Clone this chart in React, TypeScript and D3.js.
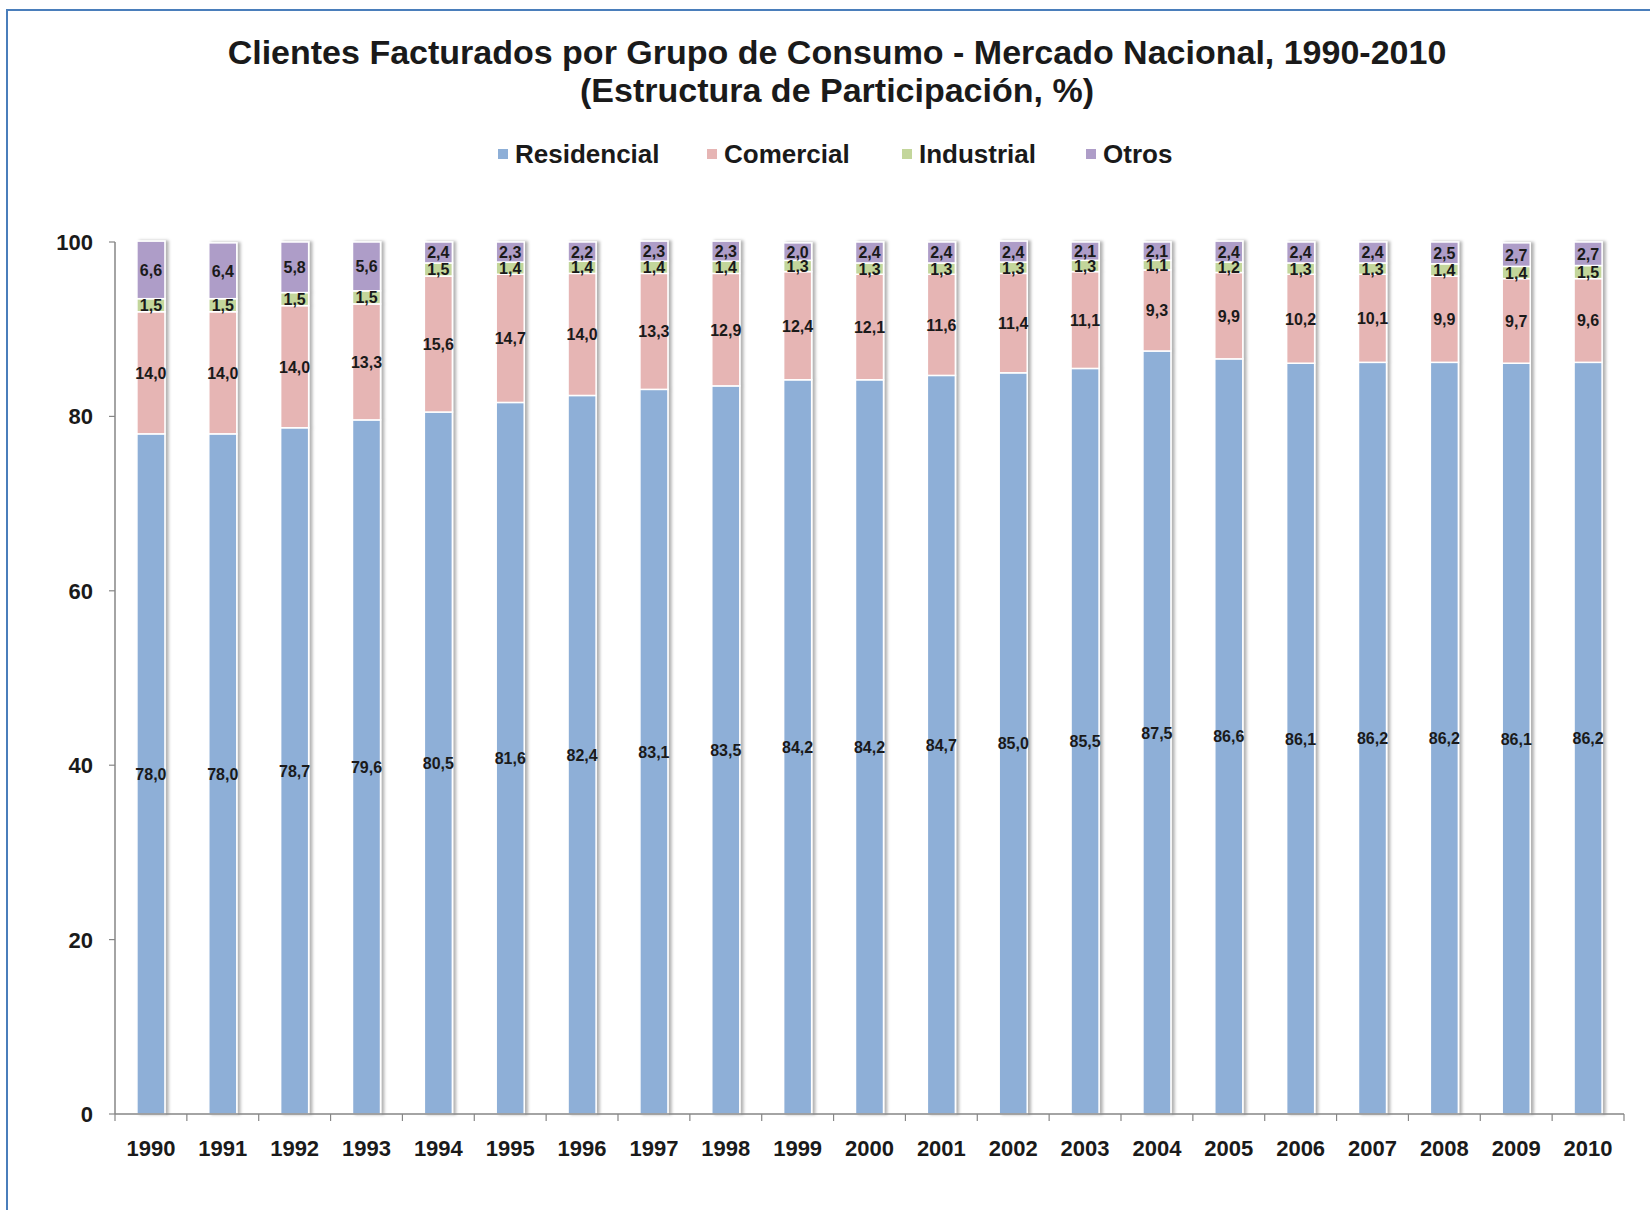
import React, { useRef, useEffect } from 'react';
import * as d3 from 'd3';

// Clientes facturados por grupo de consumo, estructura %
const years = ['1990', '1991', '1992', '1993', '1994', '1995', '1996', '1997', '1998', '1999', '2000',
  '2001', '2002', '2003', '2004', '2005', '2006', '2007', '2008', '2009', '2010'];
const residencial = [78.0, 78.0, 78.7, 79.6, 80.5, 81.6, 82.4, 83.1, 83.5, 84.2, 84.2, 84.7, 85.0, 85.5, 87.5, 86.6, 86.1, 86.2, 86.2, 86.1, 86.2];
const comercial = [14.0, 14.0, 14.0, 13.3, 15.6, 14.7, 14.0, 13.3, 12.9, 12.4, 12.1, 11.6, 11.4, 11.1, 9.3, 9.9, 10.2, 10.1, 9.9, 9.7, 9.6];
const industrial = [1.5, 1.5, 1.5, 1.5, 1.5, 1.4, 1.4, 1.4, 1.4, 1.3, 1.3, 1.3, 1.3, 1.3, 1.1, 1.2, 1.3, 1.3, 1.4, 1.4, 1.5];
const otros = [6.6, 6.4, 5.8, 5.6, 2.4, 2.3, 2.2, 2.3, 2.3, 2.0, 2.4, 2.4, 2.4, 2.1, 2.1, 2.4, 2.4, 2.4, 2.5, 2.7, 2.7];
const seriesNames = ['Residencial', 'Comercial', 'Industrial', 'Otros'];
const yTicks = [0, 20, 40, 60, 80, 100];
const titleLines = ['Clientes Facturados por Grupo de Consumo - Mercado Nacional, 1990-2010', '(Estructura de Participación, %)'];

const colors = ['#8EAFD7', '#E6B5B4', '#C3D69B', '#AE9DC8'];
const font = '"Liberation Sans", Arial, sans-serif';

function App() {
  const ref = useRef(null);

  useEffect(() => {
    const width = 1650, height = 1210;
    const svg = d3.select(ref.current).attr('width', width).attr('height', height);
    svg.selectAll('*').remove();

    const left = 115, right = 1624, top = 242, bottom = 1114;

    // chart frame
    svg.append('rect').attr('x', 7).attr('y', 10).attr('width', 1700).attr('height', 1300)
      .attr('fill', 'white').attr('stroke', '#4A7EBB').attr('stroke-width', 2);

    const defs = svg.append('defs');
    const f = defs.append('filter').attr('id', 'shadow').attr('x', '-50%').attr('y', '-5%').attr('width', '200%').attr('height', '110%');
    f.append('feDropShadow').attr('dx', 3).attr('dy', 0).attr('stdDeviation', 1.8)
      .attr('flood-color', '#000').attr('flood-opacity', 0.3);

    // title
    svg.append('g').selectAll('text').data(titleLines).enter().append('text')
      .attr('x', 837).attr('y', (d, i) => 64 + i * 38)
      .attr('text-anchor', 'middle').attr('font-family', font).attr('font-weight', 'bold')
      .attr('font-size', 34).attr('fill', '#1a1a1a').text(d => d);

    // legend
    const legendX = [498, 707, 902, 1086];
    const lg = svg.append('g');
    seriesNames.forEach((name, i) => {
      lg.append('rect').attr('x', legendX[i]).attr('y', 149).attr('width', 10).attr('height', 10).attr('fill', colors[i]);
      lg.append('text').attr('x', legendX[i] + 17).attr('y', 163)
        .attr('font-family', font).attr('font-weight', 'bold').attr('font-size', 26)
        .attr('fill', '#1a1a1a').text(name);
    });

    const x = d3.scaleBand().domain(years).range([left, right]).paddingInner(0.61).paddingOuter(0.305);
    const y = d3.scaleLinear().domain([0, 100]).range([bottom, top]);

    const table = years.map((yr, i) => ({ year: yr, Residencial: residencial[i], Comercial: comercial[i], Industrial: industrial[i], Otros: otros[i] }));
    const stacked = d3.stack().keys(seriesNames)(table);

    // bars
    const barGroups = svg.append('g').selectAll('g').data(years).enter().append('g').attr('filter', 'url(#shadow)');
    barGroups.each(function (yr, i) {
      const g = d3.select(this);
      stacked.forEach((s, k) => {
        const d = s[i];
        g.append('rect')
          .attr('x', x(yr))
          .attr('y', y(d[1]))
          .attr('width', x.bandwidth())
          .attr('height', y(d[0]) - y(d[1]))
          .attr('fill', colors[k])
          .attr('stroke', 'white')
          .attr('stroke-width', 1.5);
      });
    });

    // data labels
    const lab = svg.append('g');
    stacked.forEach((s) => {
      s.forEach((d, i) => {
        lab.append('text')
          .attr('x', x(years[i]) + x.bandwidth() / 2)
          .attr('y', y((d[0] + d[1]) / 2) + 6)
          .attr('text-anchor', 'middle')
          .attr('font-family', font).attr('font-weight', 'bold').attr('font-size', 16)
          .attr('fill', '#1a1a1a')
          .text(d3.format('.1f')(d[1] - d[0]).replace('.', ','));
      });
    });

    // axes
    const axisColor = '#868686';
    const ax = svg.append('g');
    ax.append('line').attr('x1', left).attr('x2', left).attr('y1', top).attr('y2', bottom).attr('stroke', axisColor).attr('stroke-width', 1.5);
    ax.append('line').attr('x1', left).attr('x2', right).attr('y1', bottom).attr('y2', bottom).attr('stroke', axisColor).attr('stroke-width', 1.5);
    yTicks.forEach(t => {
      ax.append('line').attr('x1', left - 6).attr('x2', left).attr('y1', y(t)).attr('y2', y(t)).attr('stroke', axisColor).attr('stroke-width', 1.2);
      ax.append('text').attr('x', 93).attr('y', y(t) + 8).attr('text-anchor', 'end')
        .attr('font-family', font).attr('font-weight', 'bold').attr('font-size', 22).attr('fill', '#1a1a1a').text(t);
    });
    const step = x.step();
    years.forEach((yr, i) => {
      ax.append('line').attr('x1', left + i * step).attr('x2', left + i * step).attr('y1', bottom).attr('y2', bottom + 7).attr('stroke', axisColor).attr('stroke-width', 1.2);
      ax.append('text').attr('x', x(yr) + x.bandwidth() / 2).attr('y', 1156).attr('text-anchor', 'middle')
        .attr('font-family', font).attr('font-weight', 'bold').attr('font-size', 22).attr('fill', '#1a1a1a').text(yr);
    });
    ax.append('line').attr('x1', right).attr('x2', right).attr('y1', bottom).attr('y2', bottom + 7).attr('stroke', axisColor).attr('stroke-width', 1.2);
  }, []);

  return (
    <div style={{ position: 'absolute', left: 0, top: 0 }}>
      <svg ref={ref} style={{ display: 'block' }}></svg>
    </div>
  );
}

export default App;
